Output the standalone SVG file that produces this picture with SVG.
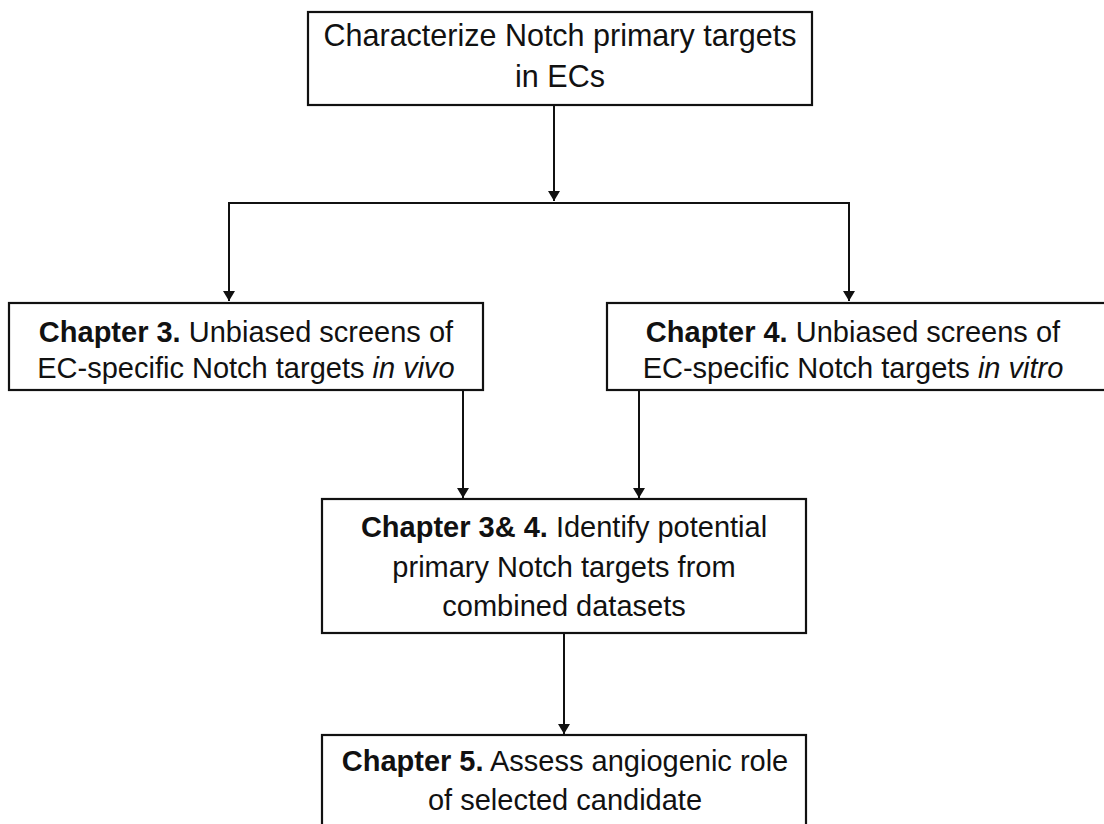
<svg xmlns="http://www.w3.org/2000/svg" width="1104" height="824" viewBox="0 0 1104 824">
<defs>
<style>
.box{fill:#fff;stroke:#111;stroke-width:2.2}
.t{font-family:"Liberation Sans",Arial,sans-serif;font-size:29px;fill:#111;text-anchor:middle}
.b{font-weight:bold}
.i{font-style:italic}
.c{fill:none;stroke:#111;stroke-width:2}
</style>
<marker id="ah" viewBox="0 0 10 12" refX="10" refY="6" markerWidth="10" markerHeight="12" markerUnits="userSpaceOnUse" orient="auto">
<path d="M0,0 L10,6 L0,12 Z" fill="#111"/>
</marker>
</defs>
<rect width="1104" height="824" fill="#fff"/>
<g id="connectors">
<line class="c" x1="554" y1="105" x2="554" y2="201" marker-end="url(#ah)"/>
<polyline class="c" points="229,300 229,203 849,203 849,300" fill="none"/>
<line class="c" x1="229" y1="210" x2="229" y2="301" marker-end="url(#ah)"/>
<line class="c" x1="849" y1="210" x2="849" y2="301" marker-end="url(#ah)"/>
<line class="c" x1="463" y1="390" x2="463" y2="498" marker-end="url(#ah)"/>
<line class="c" x1="639" y1="390" x2="639" y2="498" marker-end="url(#ah)"/>
<line class="c" x1="564" y1="633" x2="564" y2="734" marker-end="url(#ah)"/>
</g>
<g id="node-top">
<rect class="box" x="308" y="12" width="504" height="93"/>
<text class="t" x="560" y="46" style="font-size:30.5px">Characterize Notch primary targets</text>
<text class="t" x="560" y="87" style="font-size:30.5px">in ECs</text>
</g>
<g id="node-ch3">
<rect class="box" x="9" y="303" width="474" height="87"/>
<text class="t" x="246" y="342"><tspan class="b">Chapter 3.</tspan> Unbiased screens of</text>
<text class="t" x="246" y="378">EC-specific Notch targets <tspan class="i">in vivo</tspan></text>
</g>
<g id="node-ch4">
<rect class="box" x="607" y="303" width="510" height="87"/>
<text class="t" x="853" y="342"><tspan class="b">Chapter 4.</tspan> Unbiased screens of</text>
<text class="t" x="853" y="378">EC-specific Notch targets <tspan class="i">in vitro</tspan></text>
</g>
<g id="node-ch34">
<rect class="box" x="322" y="499" width="484" height="134"/>
<text class="t" x="564" y="537"><tspan class="b">Chapter 3&amp; 4.</tspan> Identify potential</text>
<text class="t" x="564" y="577">primary Notch targets from</text>
<text class="t" x="564" y="616">combined datasets</text>
</g>
<g id="node-ch5">
<rect class="box" x="322" y="735" width="484" height="100"/>
<text class="t" x="565" y="771"><tspan class="b">Chapter 5.</tspan> Assess angiogenic role</text>
<text class="t" x="565" y="810">of selected candidate</text>
</g>
</svg>
